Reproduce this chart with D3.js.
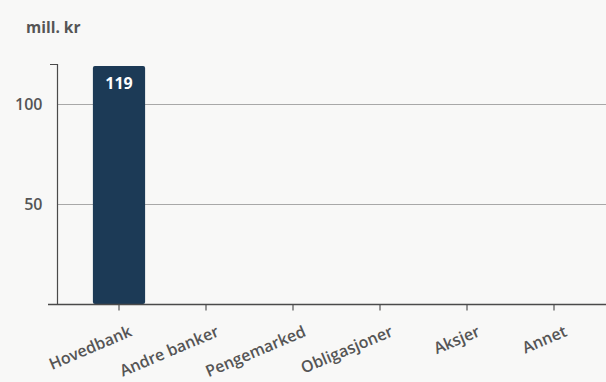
<!DOCTYPE html>
<html>
<head>
<meta charset="utf-8">
<script src="https://cdn.jsdelivr.net/npm/d3@7"></script>
<style>
  html, body { margin: 0; padding: 0; background: #f8f8f7; }
  svg { display: block; }
  text { font-family: "Open Sans", "Liberation Sans", sans-serif; }
</style>
</head>
<body>
<svg id="chart" width="606" height="382"></svg>
<script>
// Plasseringer fordelt på kategori (mill. kr)
const categories = ["Hovedbank", "Andre banker", "Pengemarked", "Obligasjoner", "Aksjer", "Annet"];
const values = [119, 0, 0, 0, 0, 0];
const yTicks = [50, 100];
const unitLabel = "mill. kr";

const svg = d3.select("#chart");
const W = 606, H = 382;
const axisX = 57, baseY = 304, topY = 64;

const x = d3.scaleBand()
  .domain(categories)
  .range([75.5, 597.5])
  .paddingInner(0.4)
  .paddingOuter(0.2);

const y = d3.scaleLinear().domain([0, 120]).range([baseY, topY]);

const textColor = "#555";

// Horisontale rutenettlinjer
svg.append("g")
  .selectAll("line")
  .data(yTicks)
  .join("line")
  .attr("x1", axisX).attr("x2", W)
  .attr("y1", d => Math.round(y(d)) + 0.5).attr("y2", d => Math.round(y(d)) + 0.5)
  .attr("stroke", "#a8a8a8").attr("stroke-width", 1.2);

// Y-akse
const yAxis = d3.axisLeft(y).tickValues(yTicks).tickSize(0).tickPadding(15);
const gy = svg.append("g").attr("transform", `translate(${axisX + 0.5},0)`).call(yAxis);
gy.select(".domain").remove();
gy.selectAll("text")
  .attr("fill", textColor)
  .attr("font-size", "16px")
  .attr("font-weight", 600)
  .attr("dy", "0.36em");

svg.append("path")
  .attr("d", `M${axisX - 7},${topY + 0.5}H${axisX + 0.5}V${baseY}`)
  .attr("fill", "none").attr("stroke", "#4a4a4a").attr("stroke-width", 1.2);

// Enhet
svg.append("text")
  .attr("x", 26).attr("y", 33)
  .attr("fill", textColor)
  .attr("font-size", "15.5px")
  .attr("font-weight", 700)
  .text(unitLabel);

// Søyler
const data = categories.map((c, i) => ({ c, v: values[i] }));
svg.append("g")
  .selectAll("rect")
  .data(data.filter(d => d.v > 0))
  .join("rect")
  .attr("x", d => x(d.c))
  .attr("width", x.bandwidth())
  .attr("y", d => y(d.v))
  .attr("height", d => baseY - y(d.v))
  .attr("rx", 2)
  .attr("fill", "#1c3a56");

// Verdietiketter
svg.append("g")
  .selectAll("text")
  .data(data.filter(d => d.v > 0))
  .join("text")
  .attr("x", d => x(d.c) + x.bandwidth() / 2)
  .attr("y", d => y(d.v) + 23)
  .attr("text-anchor", "middle")
  .attr("fill", "#ffffff")
  .attr("font-size", "16px")
  .attr("font-weight", 700)
  .text(d => d.v);

// X-akse
const xAxis = d3.axisBottom(x).tickSize(6).tickSizeOuter(0);
const gx = svg.append("g").attr("transform", `translate(0,${baseY + 0.5})`).call(xAxis);
gx.select(".domain").remove();
gx.selectAll(".tick line").attr("stroke", "#555").attr("stroke-width", 1.2);
gx.selectAll("text")
  .attr("fill", textColor)
  .attr("font-size", "16px")
  .attr("font-weight", 600)
  .attr("text-anchor", "end")
  .attr("transform", "translate(14,31) rotate(-23)")
  .attr("x", 0).attr("y", 0).attr("dy", 0);

svg.append("line")
  .attr("x1", 48).attr("x2", W)
  .attr("y1", baseY + 0.5).attr("y2", baseY + 0.5)
  .attr("stroke", "#4a4a4a").attr("stroke-width", 1.4);
</script>
</body>
</html>
